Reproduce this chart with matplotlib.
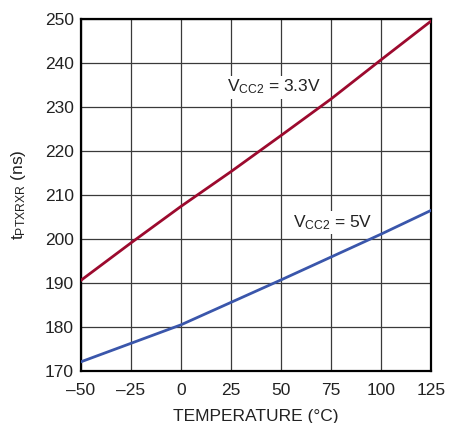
import matplotlib.pyplot as plt

plt.rcParams['font.family'] = ['Liberation Sans Narrow', 'Liberation Sans', 'DejaVu Sans']
plt.rcParams['mathtext.fontset'] = 'custom'
plt.rcParams['mathtext.rm'] = 'Liberation Sans'

temp = [-50, -25, 0, 25, 50, 75, 100, 125]
t_33v = [190.5, 199.0, 207.3, 215.2, 223.4, 231.7, 240.6, 249.4]
t_5v = [172.0, 176.2, 180.4, 185.5, 190.6, 195.8, 201.0, 206.4]

xticks = [-50, -25, 0, 25, 50, 75, 100, 125]
xlabels = ['\u201350', '\u201325', '0', '25', '50', '75', '100', '125']
yticks = [170, 180, 190, 200, 210, 220, 230, 240, 250]

fig = plt.figure(figsize=(4.52, 4.23), dpi=100)
ax = fig.add_axes([80.7 / 452, 1 - 370.7 / 423, 350 / 452, 352 / 423])

ax.plot(temp, t_33v, color='#9c0a2e', lw=2.0, zorder=3)
ax.plot(temp, t_5v, color='#3a56ab', lw=2.0, zorder=3)

ax.set_xlim(-50, 125)
ax.set_ylim(170, 250)
ax.set_xticks(xticks)
ax.set_xticklabels(xlabels)
ax.set_yticks(yticks)
ax.grid(True, color='#3a3a3a', lw=0.9)
ax.tick_params(axis='x', length=0, labelsize=12.5, colors='#222222', pad=9)
ax.tick_params(axis='y', length=0, labelsize=12.5, colors='#222222', pad=5)
for s in ax.spines.values():
    s.set_linewidth(1.6)
    s.set_color('black')

ax.set_xlabel('TEMPERATURE (\u00b0C)', fontsize=12.5, color='#222222', labelpad=8)
ax.set_ylabel(r'$\mathregular{t_{PTXRXR}}$ (ns)', fontsize=12.5, color='#222222', labelpad=12)

ax.text(23, 233.4, r'$\mathregular{V_{CC2}}$ = 3.3V', fontsize=12.5, color='#222222',
        ha='left', va='baseline', bbox=dict(fc='white', ec='none', pad=1.5))
ax.text(56, 202.7, r'$\mathregular{V_{CC2}}$ = 5V', fontsize=12.5, color='#222222',
        ha='left', va='baseline', bbox=dict(fc='white', ec='none', pad=1.5))

fig.savefig('out.png', dpi=100)
